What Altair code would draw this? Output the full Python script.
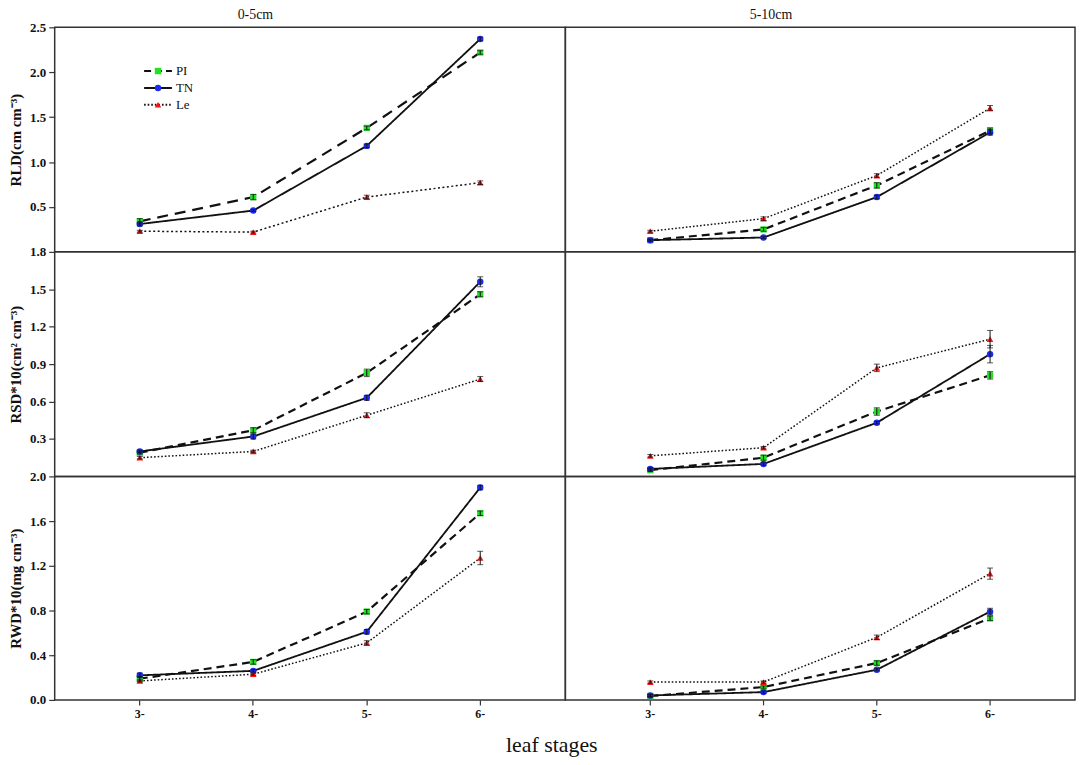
import altair as alt
import pandas as pd

series_names = ["PI", "TN", "Le"]
legend_rank = [0, 1, 2]
stage_labels = ["3-", "4-", "5-", "6-"]
depth_titles = ["0-5cm", "5-10cm"]
y_titles = ["RLD(cm cm⁻³)", "RSD*10(cm² cm⁻³)", "RWD*10(mg cm⁻³)"]
x_title = "leaf stages"

# RLD
rld_05_pi = [0.34, 0.61, 1.38, 2.22]
rld_05_tn = [0.31, 0.46, 1.18, 2.37]
rld_05_le = [0.23, 0.22, 0.61, 0.77]
rld_05_pi_err = [0.03, 0.03, 0.02, 0.02]
rld_05_tn_err = [0.02, 0.01, 0.02, 0.02]
rld_05_le_err = [0.01, 0.01, 0.02, 0.02]
rld_510_pi = [0.13, 0.25, 0.74, 1.35]
rld_510_tn = [0.13, 0.16, 0.61, 1.33]
rld_510_le = [0.23, 0.37, 0.85, 1.60]
rld_510_pi_err = [0.01, 0.02, 0.03, 0.03]
rld_510_tn_err = [0.01, 0.01, 0.02, 0.03]
rld_510_le_err = [0.01, 0.02, 0.02, 0.03]
# RSD*10
rsd_05_pi = [0.19, 0.37, 0.83, 1.46]
rsd_05_tn = [0.20, 0.32, 0.63, 1.56]
rsd_05_le = [0.15, 0.20, 0.49, 0.78]
rsd_05_pi_err = [0.01, 0.02, 0.03, 0.02]
rsd_05_tn_err = [0.01, 0.02, 0.02, 0.04]
rsd_05_le_err = [0.01, 0.01, 0.02, 0.02]
rsd_510_pi = [0.05, 0.15, 0.52, 0.81]
rsd_510_tn = [0.06, 0.10, 0.43, 0.98]
rsd_510_le = [0.165, 0.23, 0.87, 1.10]
rsd_510_pi_err = [0.01, 0.02, 0.03, 0.03]
rsd_510_tn_err = [0.01, 0.01, 0.01, 0.07]
rsd_510_le_err = [0.01, 0.01, 0.03, 0.07]
# RWD*10
rwd_05_pi = [0.19, 0.34, 0.79, 1.67]
rwd_05_tn = [0.22, 0.26, 0.61, 1.90]
rwd_05_le = [0.17, 0.23, 0.51, 1.27]
rwd_05_pi_err = [0.02, 0.02, 0.02, 0.02]
rwd_05_tn_err = [0.02, 0.01, 0.02, 0.02]
rwd_05_le_err = [0.01, 0.01, 0.02, 0.06]
rwd_510_pi = [0.035, 0.115, 0.33, 0.73]
rwd_510_tn = [0.04, 0.07, 0.27, 0.79]
rwd_510_le = [0.16, 0.16, 0.56, 1.13]
rwd_510_pi_err = [0.01, 0.01, 0.02, 0.02]
rwd_510_tn_err = [0.01, 0.01, 0.01, 0.03]
rwd_510_le_err = [0.01, 0.01, 0.02, 0.05]

y_domains = [[0, 2.5], [0, 1.8], [0, 2.0]]
y_ticks = [[0.5, 1.0, 1.5, 2.0, 2.5],
           [0.3, 0.6, 0.9, 1.2, 1.5, 1.8],
           [0.0, 0.4, 0.8, 1.2, 1.6, 2.0]]

panels = [
    [([rld_05_pi, rld_05_tn, rld_05_le], [rld_05_pi_err, rld_05_tn_err, rld_05_le_err]),
     ([rld_510_pi, rld_510_tn, rld_510_le], [rld_510_pi_err, rld_510_tn_err, rld_510_le_err])],
    [([rsd_05_pi, rsd_05_tn, rsd_05_le], [rsd_05_pi_err, rsd_05_tn_err, rsd_05_le_err]),
     ([rsd_510_pi, rsd_510_tn, rsd_510_le], [rsd_510_pi_err, rsd_510_tn_err, rsd_510_le_err])],
    [([rwd_05_pi, rwd_05_tn, rwd_05_le], [rwd_05_pi_err, rwd_05_tn_err, rwd_05_le_err]),
     ([rwd_510_pi, rwd_510_tn, rwd_510_le], [rwd_510_pi_err, rwd_510_tn_err, rwd_510_le_err])],
]

marker_colors = ["#22e022", "#1c2cf0", "#ff1010"]
marker_shapes = ["square", "circle", "triangle-up"]
marker_sizes = [40, 44, 56]
FONT = "Liberation Serif"
INK = "#111111"

widths = [514, 513]
heights = [226, 226, 225]
title_dx = [202, 207]


def make_panel(r, c):
    vals, errs = panels[r][c]
    rows = []
    for s, v, e in zip(series_names, vals, errs):
        for st, vv, ee in zip(stage_labels, v, e):
            rows.append({"stage": st, "series": s, "value": vv, "err": ee})
    df = pd.DataFrame(rows)

    bold = (r == 0 and c == 0)
    dash_scale = alt.Scale(domain=series_names,
                           range=[[11, 7] if bold else [8, 5], [1, 0], [2, 2.5] if bold else [1.6, 2]])
    width_scale = alt.Scale(domain=series_names,
                            range=[2.2 if bold else 1.7, 1.5, 1.9 if bold else 1.4])

    if r == 2:
        xaxis = alt.Axis(title=None, labelAngle=0, tickSize=5, labelPadding=4,
                         domain=False, ticks=True, grid=False)
    else:
        xaxis = None
    x = alt.X("stage:O", sort=stage_labels,
              scale=alt.Scale(domain=stage_labels, padding=0.5), axis=xaxis)
    if c == 0:
        yaxis = alt.Axis(title=y_titles[r], values=y_ticks[r], format=".1f",
                         tickSize=6, labelPadding=3, titlePadding=6,
                         grid=False, domain=False)
    else:
        yaxis = None
    y = alt.Y("value:Q", scale=alt.Scale(domain=y_domains[r], nice=False, zero=False),
              axis=yaxis)

    base = alt.Chart(df)
    line = base.mark_line(color=INK).encode(
        x=x, y=y, detail="series:N",
        strokeDash=alt.StrokeDash("series:N", scale=dash_scale, legend=None),
        strokeWidth=alt.StrokeWidth("series:N", scale=width_scale, legend=None),
    )
    pts = base.mark_point(filled=True, opacity=1).encode(
        x=x, y=y,
        shape=alt.Shape("series:N", scale=alt.Scale(domain=series_names, range=marker_shapes), legend=None),
        color=alt.Color("series:N", scale=alt.Scale(domain=series_names, range=marker_colors), legend=None),
        size=alt.Size("series:N", scale=alt.Scale(domain=series_names, range=marker_sizes), legend=None),
    )
    err = base.mark_errorbar(ticks={"size": 6}, color=INK, thickness=1).encode(
        x=x, y=y, yError="err:Q"
    )
    layers = [line, pts, err]

    if r == 0:
        ttl = alt.Chart(pd.DataFrame({"t": [depth_titles[c]]})).mark_text(
            align="center", baseline="alphabetic", font=FONT, fontSize=14, color=INK
        ).encode(x=alt.value(title_dx[c]), y=alt.value(-8), text="t:N")
        layers.append(ttl)

    data_layer = alt.layer(*layers)

    if r == 0 and c == 0:
        leg_df = pd.DataFrame({"series": series_names, "rank": legend_rank})
        leg_y = alt.Y("rank:Q", scale=alt.Scale(domain=[0, 2], range=[44, 78], nice=False, zero=False),
                      axis=None)
        lb = alt.Chart(leg_df)
        leg_rule = lb.mark_rule(color=INK).encode(
            x=alt.value(90), x2=alt.value(118), y=leg_y,
            strokeDash=alt.StrokeDash("series:N", scale=alt.Scale(domain=series_names,
                                      range=[[7, 4], [1, 0], [1.6, 2]]), legend=None),
            strokeWidth=alt.value(2),
        )
        leg_pts = lb.mark_point(filled=True, opacity=1).encode(
            x=alt.value(104), y=leg_y,
            shape=alt.Shape("series:N", scale=alt.Scale(domain=series_names, range=marker_shapes), legend=None),
            color=alt.Color("series:N", scale=alt.Scale(domain=series_names, range=marker_colors), legend=None),
            size=alt.value(42),
        )
        leg_txt = lb.mark_text(align="left", baseline="middle", font=FONT, fontSize=13,
                               color=INK).encode(x=alt.value(122), y=leg_y, text="series:N")
        legend_layer = alt.layer(leg_rule, leg_pts, leg_txt)
        chart = alt.layer(data_layer, legend_layer).resolve_scale(
            y="independent", strokeDash="independent")
    else:
        chart = data_layer

    return chart.properties(width=widths[c], height=heights[r])


cells = [make_panel(r, c) for r in range(3) for c in range(2)]

chart = alt.concat(*cells, columns=2, spacing=0, bounds="flush").properties(
    title=alt.TitleParams(x_title, orient="bottom", anchor="middle", dx=10, offset=15,
                          fontSize=22, font=FONT, fontWeight="normal", color=INK),
    padding={"top": -3, "left": 0, "right": 0, "bottom": 0},
).configure_view(
    stroke="#333333", strokeWidth=1.5
).configure_axis(
    labelFont=FONT, labelFontWeight="bold", labelFontSize=13, labelColor=INK,
    titleFont=FONT, titleFontWeight="bold", titleFontSize=15, titleColor=INK,
    tickColor="#333333", tickWidth=1.2,
).configure_axisX(
    labelFontSize=12
).configure_concat(spacing=0)

chart.save("out.html", embed_options={"renderer": "svg", "actions": False})
